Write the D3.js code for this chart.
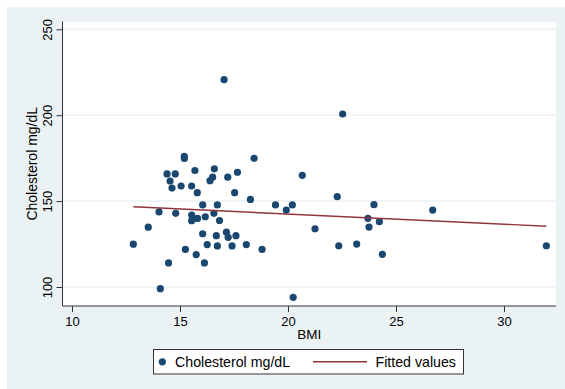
<!DOCTYPE html>
<html>
<head>
<meta charset="utf-8">
<script src="https://cdn.jsdelivr.net/npm/d3@7"></script>
<style>
  html, body { margin: 0; padding: 0; background: #fff; }
  svg { display: block; font-family: "Liberation Sans", Arial, sans-serif; }
</style>
</head>
<body>
<svg id="chart" width="565" height="389"></svg>
<script>
// BMI and cholesterol observations
const bmi = [
  15.20, 15.20, 18.43, 14.40, 14.78, 15.69, 16.59, 17.66, 20.66, 14.54,
  16.51, 16.39, 17.21, 14.63, 15.05, 15.54, 15.80, 17.53, 18.26, 16.05,
  16.73, 19.42, 20.20, 19.92, 14.03, 14.80, 15.54, 16.57, 16.17, 15.81,
  15.54, 16.83, 13.53, 21.25, 16.05, 17.15, 17.23, 17.59, 16.68, 12.84,
  16.26, 16.73, 17.41, 18.07, 15.25, 18.80, 15.75, 14.47, 16.13, 14.09,
  20.24, 17.04, 22.53, 22.28, 23.98, 23.70, 26.70, 23.75, 24.23, 22.35,
  23.18, 24.37, 31.96
];
const cholesterol = [
  176.0, 174.8, 174.9, 165.8, 165.8, 167.8, 168.8, 166.8, 165.0, 161.7,
  163.9, 161.9, 163.9, 157.6, 158.8, 158.8, 154.9, 154.9, 151.0, 147.8,
  147.8, 147.8, 147.8, 144.8, 143.7, 142.9, 141.9, 142.9, 140.9, 139.9,
  138.6, 138.7, 134.8, 133.9, 131.0, 131.9, 128.9, 129.9, 129.9, 124.9,
  124.7, 123.9, 123.9, 124.7, 121.9, 121.9, 118.9, 114.0, 114.0, 99.0,
  94.0, 220.7, 200.7, 152.6, 147.9, 140.0, 144.8, 134.9, 138.0, 124.0,
  125.0, 119.0, 124.0
];

// Linear fit, endpoints at the observed BMI range
const fittedBmi = [12.84, 31.96];
const fittedChol = [146.7, 135.4];

const xTicks = [10, 15, 20, 25, 30];
const yTicks = [100, 150, 200, 250];

const seriesLabel = "Cholesterol mg/dL";
const fitLabel = "Fitted values";
const xTitle = "BMI";
const yTitle = "Cholesterol mg/dL";

const W = 565, H = 389;
const plot = { left: 62.5, right: 556, top: 21.5, bottom: 306 };

const svg = d3.select("#chart");

// graph region background
svg.append("rect").attr("x", 7).attr("y", 7)
  .attr("width", W - 7).attr("height", H - 7).attr("fill", "#EAF2F3");

// plot region
svg.append("rect").attr("x", plot.left).attr("y", plot.top)
  .attr("width", plot.right - plot.left).attr("height", plot.bottom - plot.top)
  .attr("fill", "#fff").attr("shape-rendering", "crispEdges");

const x = d3.scaleLinear()
  .domain([10 - (72 - plot.left) / 21.6, 10 + (plot.right - 72) / 21.6])
  .range([plot.left, plot.right]);
const y = d3.scaleLinear()
  .domain([100 - (plot.bottom - 287) / 1.718, 100 + (287 - plot.top) / 1.718])
  .range([plot.bottom, plot.top]);

// horizontal grid
svg.append("g").selectAll("line").data(yTicks).join("line")
  .attr("x1", plot.left).attr("x2", plot.right)
  .attr("y1", d => y(d)).attr("y2", d => y(d))
  .attr("stroke", "#EAF2F3").attr("stroke-width", 1.5);

// y axis
const yAxis = svg.append("g")
  .attr("transform", `translate(${plot.left},0)`)
  .call(d3.axisLeft(y).tickValues(yTicks).tickSize(6).tickSizeOuter(0).tickFormat(d3.format("d")));
yAxis.select(".domain").attr("stroke", "#333").attr("d", `M0,${plot.top}V${plot.bottom}`);
yAxis.selectAll(".tick line").attr("stroke", "#333");
yAxis.selectAll(".tick text")
  .attr("transform", "rotate(-90)")
  .attr("x", 0).attr("y", -11).attr("dy", null)
  .attr("text-anchor", "middle")
  .attr("font-size", 13).attr("fill", "#000");

// x axis
const xAxis = svg.append("g")
  .attr("transform", `translate(0,${plot.bottom})`)
  .call(d3.axisBottom(x).tickValues(xTicks).tickSize(6).tickSizeOuter(0).tickFormat(d3.format("d")));
xAxis.select(".domain").attr("stroke", "#333").attr("d", `M${plot.left},0H${plot.right}`);
xAxis.selectAll(".tick line").attr("stroke", "#333");
xAxis.selectAll(".tick text")
  .attr("y", 20).attr("dy", null)
  .attr("font-size", 13).attr("fill", "#000");

// axis titles
svg.append("text")
  .attr("transform", `translate(36.5,${(plot.top + plot.bottom) / 2}) rotate(-90)`)
  .attr("text-anchor", "middle").attr("font-size", 14).attr("fill", "#000")
  .text(yTitle);
svg.append("text")
  .attr("x", (plot.left + plot.right) / 2).attr("y", 339.3)
  .attr("text-anchor", "middle").attr("font-size", 13.5).attr("fill", "#000")
  .text(xTitle);

// scatter points
const points = bmi.map((b, i) => ({ b, c: cholesterol[i] }));
svg.append("g").selectAll("circle").data(points).join("circle")
  .attr("cx", d => x(d.b)).attr("cy", d => y(d.c)).attr("r", 3.6)
  .attr("fill", "#1A476F");

// fitted line
const fit = fittedBmi.map((b, i) => [b, fittedChol[i]]);
svg.append("path")
  .attr("d", d3.line().x(d => x(d[0])).y(d => y(d[1]))(fit))
  .attr("fill", "none").attr("stroke", "#90353B").attr("stroke-width", 1.4);

// legend
const lg = svg.append("g");
lg.append("rect").attr("x", 153.5).attr("y", 349.5).attr("width", 310).attr("height", 24.5)
  .attr("fill", "#fff").attr("stroke", "#333").attr("stroke-width", 1);
lg.append("circle").attr("cx", 162.3).attr("cy", 361.8).attr("r", 3.6).attr("fill", "#1A476F");
lg.append("text").attr("x", 175).attr("y", 367).attr("font-size", 14.2).attr("fill", "#000").text(seriesLabel);
lg.append("line").attr("x1", 313).attr("x2", 367).attr("y1", 361.8).attr("y2", 361.8)
  .attr("stroke", "#90353B").attr("stroke-width", 1.4);
lg.append("text").attr("x", 375.5).attr("y", 367).attr("font-size", 14.2).attr("fill", "#000").text(fitLabel);
</script>
</body>
</html>
